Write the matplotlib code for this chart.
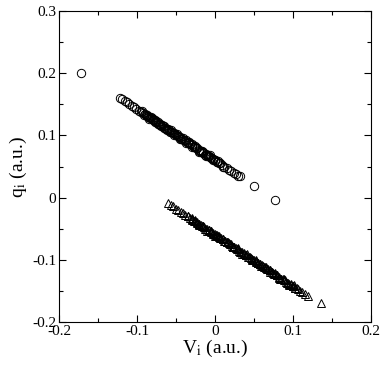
import matplotlib
matplotlib.use('Agg')
import matplotlib.pyplot as plt
from matplotlib.ticker import MultipleLocator, FuncFormatter

plt.rcParams['font.family'] = ['Liberation Serif', 'DejaVu Serif']
plt.rcParams['mathtext.fontset'] = 'stix'

# circles (upper branch)
circ_x = [-0.172, -0.122, -0.119, -0.116, -0.113, -0.110, -0.107, -0.104, -0.101, -0.098,
          -0.095, -0.092, -0.089, -0.086, -0.083, -0.080, -0.078, -0.075, -0.072, -0.070,
          -0.067, -0.064, -0.062, -0.059, -0.056, -0.054, -0.051, -0.048, -0.046, -0.043,
          -0.040, -0.038, -0.035, -0.032, -0.030, -0.027, -0.024, -0.021, -0.018, -0.015,
          -0.012, -0.009, -0.006, -0.003, 0.000, 0.003, 0.006, 0.009, 0.012, 0.015,
          0.018, 0.021, 0.024, 0.027, 0.030, 0.032, 0.050, 0.077,
          -0.094, -0.091, -0.087, -0.084, -0.081, -0.077, -0.073, -0.069, -0.065, -0.061,
          -0.057, -0.053, -0.049, -0.045, -0.041, -0.037, -0.033, -0.029, -0.025, -0.020,
          -0.016, -0.011, -0.007, -0.002, 0.004, 0.010,
          -0.0900, -0.0875, -0.0850, -0.0825, -0.0800, -0.0775, -0.0750, -0.0725, -0.0700, -0.0675,
          -0.0650, -0.0625, -0.0600, -0.0575, -0.0550, -0.0525, -0.0500, -0.0475, -0.0450, -0.0425,
          -0.0400, -0.0375, -0.0350, -0.0325, -0.0300, -0.0275, -0.0250, -0.0225, -0.0200, -0.0175,
          -0.0150, -0.0125, -0.0100, -0.0075, -0.0050, -0.0025, 0.0000, 0.0025, 0.0050]
circ_y = [0.201, 0.160, 0.158, 0.155, 0.153, 0.150, 0.148, 0.146, 0.143, 0.140,
          0.138, 0.136, 0.133, 0.130, 0.128, 0.126, 0.124, 0.121, 0.119, 0.118,
          0.115, 0.112, 0.111, 0.108, 0.106, 0.104, 0.102, 0.099, 0.098, 0.095,
          0.093, 0.091, 0.089, 0.086, 0.085, 0.082, 0.080, 0.077, 0.075, 0.072,
          0.070, 0.067, 0.065, 0.062, 0.060, 0.058, 0.055, 0.053, 0.050, 0.048,
          0.045, 0.043, 0.040, 0.038, 0.035, 0.034, 0.019, -0.003,
          0.139, 0.133, 0.133, 0.127, 0.128, 0.121, 0.122, 0.115, 0.115, 0.108,
          0.109, 0.101, 0.102, 0.095, 0.096, 0.088, 0.089, 0.082, 0.083, 0.074,
          0.075, 0.067, 0.068, 0.060, 0.059, 0.050,
          0.135, 0.131, 0.130, 0.129, 0.125, 0.124, 0.123, 0.118, 0.117, 0.116,
          0.112, 0.111, 0.110, 0.106, 0.105, 0.104, 0.100, 0.099, 0.098, 0.094,
          0.093, 0.092, 0.088, 0.087, 0.086, 0.082, 0.081, 0.080, 0.075, 0.074,
          0.073, 0.069, 0.068, 0.067, 0.063, 0.062, 0.061, 0.057, 0.056]

# triangles (lower branch)
tri_x = [-0.060, -0.057, -0.054, -0.050, -0.047, -0.044, -0.041, -0.038, -0.035, -0.032,
         -0.029, -0.026, -0.023, -0.020, -0.017, -0.014, -0.011, -0.008, -0.005, -0.002,
         0.001, 0.004, 0.007, 0.010, 0.013, 0.016, 0.019, 0.022, 0.025, 0.028,
         0.031, 0.034, 0.037, 0.040, 0.043, 0.046, 0.049, 0.052, 0.055, 0.058,
         0.061, 0.064, 0.067, 0.070, 0.073, 0.076, 0.079, 0.082, 0.085, 0.088,
         0.091, 0.094, 0.097, 0.100, 0.103, 0.106, 0.109, 0.112, 0.115, 0.119, 0.136,
         -0.034, -0.030, -0.025, -0.020, -0.015, -0.010, -0.005, 0.000, 0.005, 0.011,
         0.017, 0.023, 0.029, 0.035, 0.041, 0.047, 0.053, 0.059, 0.065, 0.071,
         0.077, 0.083, 0.089, 0.095, 0.101,
         -0.0300, -0.0275, -0.0250, -0.0225, -0.0200, -0.0175, -0.0150, -0.0125, -0.0100, -0.0075,
         -0.0050, -0.0025, 0.0000, 0.0025, 0.0050, 0.0075, 0.0100, 0.0125, 0.0150, 0.0175,
         0.0200, 0.0225, 0.0250, 0.0275, 0.0300, 0.0325, 0.0350, 0.0375, 0.0400, 0.0425,
         0.0450, 0.0475, 0.0500, 0.0525, 0.0550, 0.0575, 0.0600, 0.0625, 0.0650, 0.0675,
         0.0700, 0.0725, 0.0750, 0.0775, 0.0800, 0.0825, 0.0850, 0.0875, 0.0900, 0.0925,
         0.0950, 0.0975, 0.1000, 0.1025, 0.1050]
tri_y = [-0.009, -0.012, -0.014, -0.018, -0.020, -0.023, -0.025, -0.028, -0.030, -0.032,
         -0.035, -0.037, -0.040, -0.042, -0.045, -0.047, -0.050, -0.052, -0.055, -0.057,
         -0.060, -0.062, -0.065, -0.067, -0.070, -0.072, -0.075, -0.077, -0.080, -0.082,
         -0.085, -0.087, -0.090, -0.092, -0.095, -0.097, -0.100, -0.102, -0.105, -0.107,
         -0.110, -0.112, -0.115, -0.117, -0.120, -0.122, -0.125, -0.127, -0.130, -0.132,
         -0.135, -0.137, -0.140, -0.142, -0.145, -0.147, -0.150, -0.152, -0.155, -0.158, -0.169,
         -0.029, -0.036, -0.036, -0.044, -0.045, -0.053, -0.053, -0.061, -0.061, -0.070,
         -0.071, -0.080, -0.081, -0.090, -0.091, -0.100, -0.101, -0.110, -0.111, -0.120,
         -0.121, -0.130, -0.131, -0.140, -0.141,
         -0.033, -0.037, -0.038, -0.039, -0.043, -0.044, -0.046, -0.050, -0.051, -0.052,
         -0.054, -0.058, -0.059, -0.060, -0.064, -0.065, -0.066, -0.070, -0.072, -0.073,
         -0.075, -0.079, -0.080, -0.081, -0.083, -0.087, -0.088, -0.089, -0.092, -0.095,
         -0.096, -0.098, -0.100, -0.104, -0.105, -0.106, -0.108, -0.112, -0.113, -0.114,
         -0.117, -0.120, -0.121, -0.123, -0.125, -0.129, -0.130, -0.131, -0.133, -0.137,
         -0.138, -0.139, -0.142, -0.145, -0.146]

fig = plt.figure(figsize=(3.82, 3.66), dpi=100)
ax = fig.add_axes([0.1545, 0.120, 0.8165, 0.850])

ax.plot(circ_x, circ_y, 'o', mfc='none', mec='black', ms=6, mew=0.7)
ax.plot(tri_x, tri_y, '^', mfc='none', mec='black', ms=6, mew=0.7)

ax.set_xlim(-0.2, 0.2)
ax.set_ylim(-0.2, 0.3)
ax.xaxis.set_major_locator(MultipleLocator(0.1))
ax.xaxis.set_minor_locator(MultipleLocator(0.05))
ax.yaxis.set_major_locator(MultipleLocator(0.1))
ax.yaxis.set_minor_locator(MultipleLocator(0.05))

def fmt(v, pos):
    if abs(v) < 1e-9:
        return '0'
    return ('%.1f' % v)

ax.xaxis.set_major_formatter(FuncFormatter(fmt))
ax.yaxis.set_major_formatter(FuncFormatter(fmt))
ax.tick_params(which='both', direction='in', top=True, right=True, labelsize=11)
ax.tick_params(which='major', length=5, width=0.8)
ax.tick_params(which='minor', length=3, width=0.8)
ax.tick_params(axis='x', pad=2)
ax.tick_params(axis='y', pad=2)

ax.set_xlabel(r'V$_{\rm i}$ (a.u.)', fontsize=14, labelpad=0)
ax.set_ylabel(r'q$_{\rm i}$ (a.u.)', fontsize=14, labelpad=2)

fig.savefig('out.png', dpi=100)
